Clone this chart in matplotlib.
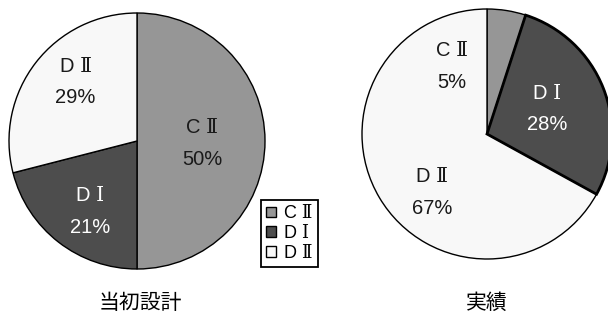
import matplotlib
matplotlib.use("Agg")
import matplotlib.pyplot as plt

plt.rcParams['font.family'] = ['Noto Sans CJK JP', 'DejaVu Sans']
LATIN = ['Liberation Sans', 'DejaVu Serif']  # serif Roman numerals like the original

categories = ["C Ⅱ", "D Ⅰ", "D Ⅱ"]
pie_names = ["C Ⅱ", "D Ⅰ", "D Ⅱ"]
plan_values = [50, 21, 29]     # 当初設計
actual_values = [5, 28, 67]    # 実績
titles = ["当初設計", "実績"]

colors = ["#969696", "#4d4d4d", "#f8f8f8"]
text_colors = ["#1a1a1a", "white", "#1a1a1a"]

# label positions in units of pie radius (manually placed, like the original)
plan_label_pos = [(0.51, -0.02), (-0.37, -0.55), (-0.48, 0.46)]
actual_label_pos = [(-0.28, 0.54), (0.48, 0.20), (-0.44, -0.47)]

W, H = 608, 323
fig = plt.figure(figsize=(W / 100, H / 100), dpi=100)


def pie_axes(cx, cy, r):
    return fig.add_axes([(cx - r) / W, (H - cy - r) / H, 2 * r / W, 2 * r / H])


def draw_pie(ax, values, label_pos, edge_widths):
    wedges, _ = ax.pie(values, colors=colors, startangle=90, counterclock=False,
                       wedgeprops=dict(edgecolor="black", linewidth=1.0))
    for w, lw in zip(wedges, edge_widths):
        w.set_linewidth(lw)
        w.set_zorder(3 if lw > 1.2 else 2)
    for name, v, (x, y), tc in zip(pie_names, values, label_pos, text_colors):
        ax.text(x, y, f"{name}\n{v}%", ha="center", va="center", fontsize=14.5,
                family=LATIN, color=tc, linespacing=1.85, zorder=5)
    ax.set_xlim(-1, 1)
    ax.set_ylim(-1, 1)
    ax.set_aspect("auto")
    ax.axis("off")
    return wedges


ax1 = pie_axes(137, 141, 128)
wedges = draw_pie(ax1, plan_values, plan_label_pos, [1.0, 1.0, 1.0])

ax2 = pie_axes(487, 134, 125)
draw_pie(ax2, actual_values, actual_label_pos, [1.0, 2.0, 1.0])

fig.text(140 / W, 1 - 303 / H, titles[0], ha="center", va="center", fontsize=15)
fig.text(487 / W, 1 - 303 / H, titles[1], ha="center", va="center", fontsize=15)

leg = fig.legend(wedges, categories, loc="upper left",
                 bbox_to_anchor=(261 / W, 1 - 200 / H),
                 prop=dict(family=LATIN, size=13),
                 handlelength=0.55, handleheight=0.55, handletextpad=0.45,
                 labelspacing=0.15, borderpad=0.3, borderaxespad=0,
                 fancybox=False, framealpha=1)
leg.get_frame().set_edgecolor("black")
leg.get_frame().set_linewidth(1.3)

fig.savefig("out.png", dpi=100)
